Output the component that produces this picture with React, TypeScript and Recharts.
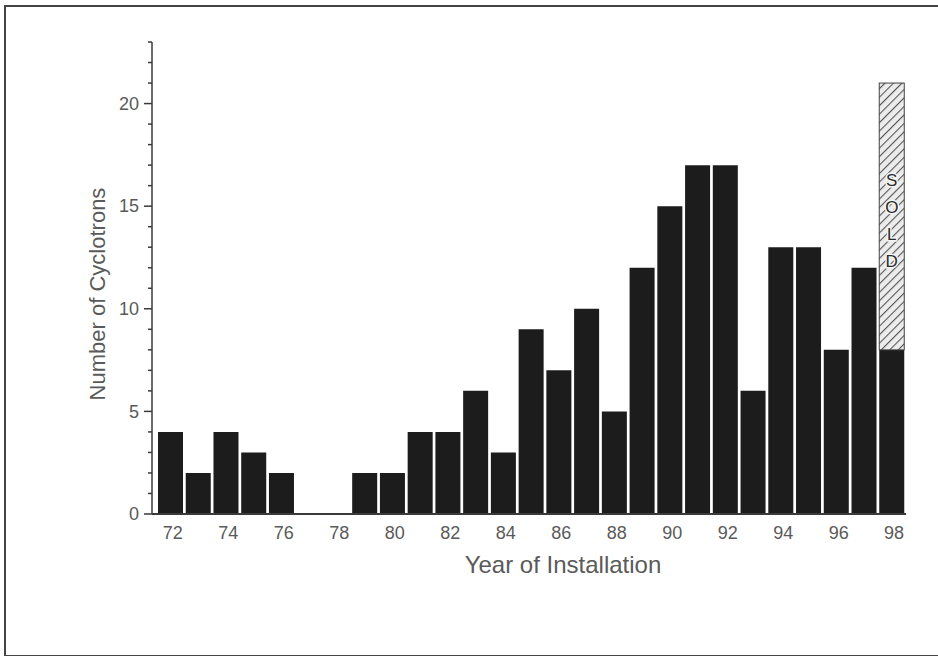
import React from 'react';
import { BarChart, Bar, XAxis, YAxis, LabelList } from 'recharts';

// Year of installation (19xx)
const years = ['72', '73', '74', '75', '76', '77', '78', '79', '80', '81', '82', '83', '84', '85',
  '86', '87', '88', '89', '90', '91', '92', '93', '94', '95', '96', '97', '98'];

// Cyclotrons installed per year
const installed = [4, 2, 4, 3, 2, 0, 0, 2, 2, 4, 4, 6, 3, 9, 7, 10, 5, 12, 15, 17, 17, 6, 13, 13, 8, 12, 8];

// Units already sold for the final year (stacked on top)
const sold = [null, null, null, null, null, null, null, null, null, null, null, null, null, null,
  null, null, null, null, null, null, null, null, null, null, null, null, 13];

const yTicks = [0, 1, 2, 3, 4, 5, 6, 7, 8, 9, 10, 11, 12, 13, 14, 15, 16, 17, 18, 19, 20, 21, 22, 23];

const soldLetters = ['S', 'O', 'L', 'D'];

const data = years.map((year, i) => ({ year, installed: installed[i], sold: sold[i] }));

const FONT = '"Liberation Sans", Arial, Helvetica, sans-serif';
const TEXT = '#5a5a5a';
const AXIS = '#3a3a3a';

const YTick = (props: any) => {
  const { x, y, payload } = props;
  const major = payload.value % 5 === 0;
  return (
    <g>
      <line x1={x} x2={x - (major ? 8 : 4)} y1={y} y2={y} stroke={AXIS} strokeWidth={1.5} />
      {major && (
        <text x={x - 13} y={y} dy="0.35em" textAnchor="end" fontSize={18} fontFamily={FONT} fill={TEXT}>
          {payload.value}
        </text>
      )}
    </g>
  );
};

const XTick = (props: any) => {
  const { x, y, payload } = props;
  return (
    <text x={x + 2} y={y + 25} textAnchor="middle" fontSize={18} fontFamily={FONT} fill={TEXT}>
      {payload.value}
    </text>
  );
};

const HatchBar = (props: any) => {
  const { x, y, width, height } = props;
  if (!height) return null;
  return (
    <g>
      <defs>
        <pattern id="soldHatch" patternUnits="userSpaceOnUse" width={6} height={6} patternTransform="rotate(45)">
          <rect width={6} height={6} fill="#ececec" />
          <line x1={0} y1={0} x2={0} y2={6} stroke="#555" strokeWidth={2.2} />
        </pattern>
      </defs>
      <rect x={x} y={y} width={width} height={height} fill="url(#soldHatch)" stroke="#444" strokeWidth={1} />
    </g>
  );
};

const SoldLabel = (props: any) => {
  const { x, y, width, value } = props;
  if (!value) return null;
  return (
    <g>
      {soldLetters.map((ch, i) => (
        <text
          key={ch}
          x={x + width / 2}
          y={y + 97 + i * 27}
          dy="0.35em"
          textAnchor="middle"
          fontSize={17}
          fontFamily={FONT}
          fill="#2a2a2a"
          stroke="#f4f4f4"
          strokeWidth={3}
          paintOrder="stroke"
        >
          {ch}
        </text>
      ))}
    </g>
  );
};

export default function App() {
  return (
    <div style={{ position: 'absolute', left: 0, top: 0, width: 938, height: 656, overflow: 'hidden', background: '#fff' }}>
      {/* frame around the figure */}
      <div
        style={{
          position: 'absolute',
          left: 4,
          top: 5,
          width: 940,
          height: 648,
          border: '2px solid #444',
          borderRight: 'none',
        }}
      />
      <div style={{ position: 'absolute', left: 0, top: 0 }}>
        <BarChart width={938} height={656} data={data} margin={{ top: 42, right: 32, left: 0, bottom: 62 }}>
          <XAxis
            dataKey="year"
            interval={1}
            tickLine={false}
            tickSize={0}
            tickMargin={0}
            padding={{ left: 5, right: 0 }}
            height={80}
            axisLine={{ stroke: AXIS, strokeWidth: 2 }}
            tick={<XTick />}
            label={{
              content: ({ viewBox }: any) => (
                <text
                  x={viewBox.x + 411}
                  y={viewBox.y + 59}
                  textAnchor="middle"
                  fontSize={24}
                  fontFamily={FONT}
                  fill={TEXT}
                >
                  Year of Installation
                </text>
              ),
            }}
          />
          <YAxis
            type="number"
            domain={[0, 23]}
            ticks={yTicks}
            interval={0}
            width={152}
            tickLine={false}
            tickSize={0}
            tickMargin={0}
            axisLine={{ stroke: AXIS, strokeWidth: 1.5 }}
            tick={<YTick />}
            label={{
              content: ({ viewBox }: any) => {
                const cx = viewBox.x + 97;
                const cy = viewBox.y + viewBox.height / 2 + 16;
                return (
                  <text
                    x={cx}
                    y={cy}
                    dy="0.35em"
                    textAnchor="middle"
                    transform={`rotate(-90, ${cx}, ${cy})`}
                    fontSize={22}
                    fontFamily={FONT}
                    fill={TEXT}
                  >
                    Number of Cyclotrons
                  </text>
                );
              },
            }}
          />
          <Bar dataKey="installed" stackId="a" barSize={25} fill="#1c1c1c" isAnimationActive={false} />
          <Bar dataKey="sold" stackId="a" barSize={25} shape={<HatchBar />} isAnimationActive={false}>
            <LabelList dataKey="sold" content={<SoldLabel />} />
          </Bar>
        </BarChart>
      </div>
    </div>
  );
}
